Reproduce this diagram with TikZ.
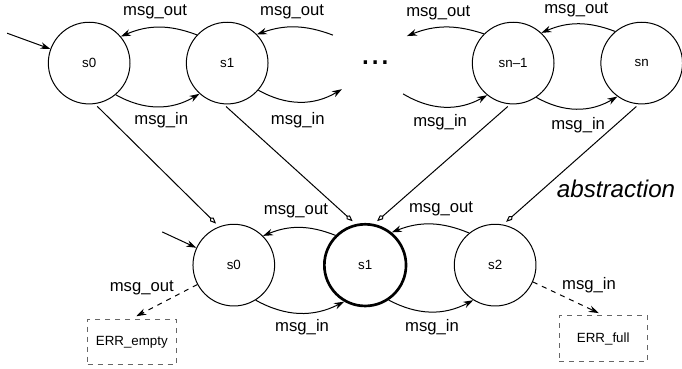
\documentclass[tikz,border=0pt]{standalone}
\usepackage{fontspec}
\setmainfont{Liberation Sans}
\usetikzlibrary{arrows.meta}

\begin{document}
\begin{tikzpicture}[>={Stealth[length=6pt,width=4pt]}, line width=0.6pt,
    state/.style={circle, draw, minimum size=49pt, inner sep=0pt,
      font=\fontsize{8}{9}\selectfont},
    curstate/.style={state, line width=1.6pt},
    errbox/.style={draw=black!60, dashed, minimum width=53pt,
      minimum height=27.5pt, font=\fontsize{8}{9}\selectfont},
    lbl/.style={inner sep=0pt, font=\fontsize{10}{12}\selectfont},
    abstr/.style={-{Kite[open,length=5pt,width=3pt,inset=1.5pt]},
      shorten <=2pt, shorten >=2.5pt},
    fail/.style={->, dashed, shorten >=3pt}]
    \useasboundingbox (0,0) rectangle (14.38,-7.78);

    % concrete buffer
    \node[state] at (1.88,-1.33) (ts0) {s0};
    \node[state] at (4.79,-1.33) (ts1) {s1};
    \node[state] at (10.82,-1.33) (tsn1) {sn--1};
    \node[state] at (13.53,-1.33) (tsn) {sn};
    \node[inner sep=0pt, font=\fontsize{21}{21}\selectfont]
      at (7.91,-1.33) (dots) {...};
    \coordinate (tinit) at (0.15,-0.70);
    \coordinate (a1) at (7.02,-0.74);
    \coordinate (b1) at (7.21,-1.88);
    \coordinate (a2) at (8.58,-0.76);
    \coordinate (b2) at (8.50,-1.98);

    % abstract buffer
    \node[state] at (4.93,-5.59) (bs0) {s0};
    \node[curstate] at (7.70,-5.59) (bs1) {s1};
    \node[state] at (10.44,-5.59) (bs2) {s2};
    \node[errbox] at (2.78,-7.21) (errempty) {ERR\_empty};
    \node[errbox] at (12.72,-7.14) (errfull) {ERR\_full};
    \coordinate (binit) at (3.42,-4.89);

    \node[lbl] at (3.27,-0.25) (lo1) {msg\_out};
    \node[lbl] at (6.16,-0.25) (lo2) {msg\_out};
    \node[lbl] at (3.40,-2.53) (li1) {msg\_in};
    \node[lbl] at (6.28,-2.53) (li2) {msg\_in};
    \node[lbl] at (9.24,-0.27) (lo3) {msg\_out};
    \node[lbl] at (9.28,-2.57) (li3) {msg\_in};
    \node[lbl] at (12.15,-0.21) (lo4) {msg\_out};
    \node[lbl] at (12.19,-2.64) (li4) {msg\_in};
    \node[lbl] at (6.24,-4.45) (blo1) {msg\_out};
    \node[lbl] at (6.37,-6.90) (bli1) {msg\_in};
    \node[lbl] at (9.30,-4.41) (blo2) {msg\_out};
    \node[lbl] at (9.11,-6.90) (bli2) {msg\_in};
    \node[lbl] at (2.99,-6.07) (elo) {msg\_out};
    \node[lbl] at (12.42,-6.01) (eli) {msg\_in};
    \node[inner sep=0pt, font=\fontsize{14.5}{16}\selectfont\itshape]
      at (12.99,-3.99) (absname) {abstraction};

    \draw[->] (tinit) -- (ts0);
    \draw[->] (ts1.137) to[bend right=22] (ts0.40);
    \draw[->] (ts0.-50) to[bend right=30] (ts1.-132);
    \draw[->] (a1) to[bend right=20] (ts1.44);
    \draw[->] (ts1.-41) to[bend right=30] (b1);
    \draw[->] (tsn1.135) to[bend right=20] (a2);
    \draw[->] (b2) to[bend right=30] (tsn1.-129);
    \draw[->] (tsn.130) to[bend right=22] (tsn1.47);
    \draw[->] (tsn1.-56) to[bend right=30] (tsn.-126);

    \draw[abstr] (ts0.-82) -- (bs0.111);
    \draw[abstr] (ts1.-95) -- (bs1.103);
    \draw[abstr] (tsn1.-94) -- (bs1.78);
    \draw[abstr] (tsn.-94) -- (bs2.79);

    \draw[->] (binit) -- (bs0);
    \draw[->] (bs1.135) to[bend right=22] (bs0.45);
    \draw[->] (bs0.-58) to[bend right=28] (bs1.-120);
    \draw[->] (bs2.129) to[bend right=22] (bs1.51);
    \draw[->] (bs1.-56) to[bend right=28] (bs2.-122);
    \draw[fail] (bs0.208) -- (errempty.north);
    \draw[fail] (bs2.-24) -- (errfull.north);
\end{tikzpicture}
\end{document}
